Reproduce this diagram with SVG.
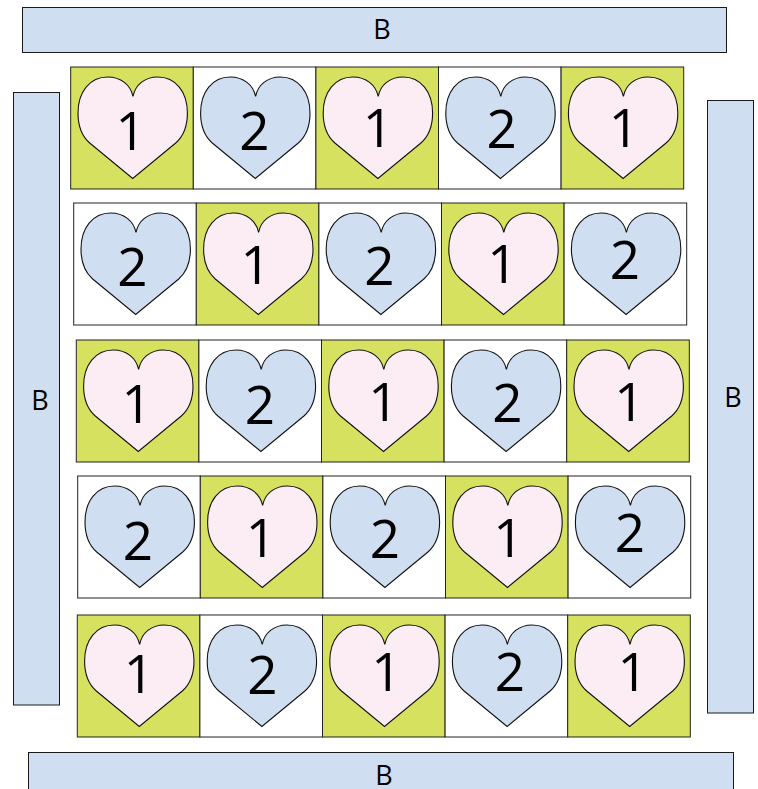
<svg xmlns="http://www.w3.org/2000/svg" width="758" height="789" viewBox="0 0 758 789">
<style>
.b{fill:#cfdff1;stroke:#1a1a1a;stroke-width:1}
.c{stroke:#222;stroke-width:1}
.g{fill:#d7e160}.w{fill:#fff}
.h{stroke:#111;stroke-width:1.100}
.p{fill:#fcedf5}.l{fill:#cfdff1}
text{font-family:"Open Sans","Noto Sans",sans-serif;fill:#000;text-anchor:middle}
.d{font-size:53px}.t{font-size:27px}
</style>
<defs>
<path id="heart" d="M62.300 29.500C60 18 50 10 37 10C19 10 7.300 25 7.300 46C7.300 60 11 69 19 76L62 111.500L105 76C113 69 116.700 60 116.700 46C116.700 25 105 10 87 10C74 10 64.500 18 62.300 29.500Z"/>
<g id="t1"><rect class="c g" width="122.600" height="122"/><use href="#heart" class="h p"/></g>
<g id="t2"><rect class="c w" width="122.600" height="122"/><use href="#heart" class="h l"/></g>
</defs>
<g id="border-top"><rect class="b" x="22.500" y="7.500" width="704" height="45"/><text class="t" x="382" y="39">B</text></g>
<g id="border-bottom"><rect class="b" x="28.500" y="752.500" width="705" height="45"/><text class="t" x="384" y="785">B</text></g>
<g id="border-left"><rect class="b" x="13.500" y="92.500" width="46" height="612.500"/><text class="t" x="40" y="410">B</text></g>
<g id="border-right"><rect class="b" x="707.500" y="100.500" width="46" height="612.500"/><text class="t" x="733" y="407">B</text></g>
<g id="row1">
<use href="#t1" x="70.700" y="67"/><use href="#t2" x="193.300" y="67"/><use href="#t1" x="315.900" y="67"/><use href="#t2" x="438.500" y="67"/><use href="#t1" x="561.100" y="67"/>
<text class="d" x="130.700" y="149.700">1</text><text class="d" x="254.500" y="149.700">2</text><text class="d" x="378" y="147">1</text><text class="d" x="501.700" y="148">2</text><text class="d" x="624" y="147">1</text>
</g>
<g id="row2">
<use href="#t2" x="73.700" y="203"/><use href="#t1" x="196.300" y="203"/><use href="#t2" x="318.900" y="203"/><use href="#t1" x="441.500" y="203"/><use href="#t2" x="564.100" y="203"/>
<text class="d" x="132.500" y="286.300">2</text><text class="d" x="255.700" y="283.700">1</text><text class="d" x="379.300" y="284.700">2</text><text class="d" x="502.300" y="283">1</text><text class="d" x="625" y="279">2</text>
</g>
<g id="row3">
<use href="#t1" x="76.300" y="340"/><use href="#t2" x="198.900" y="340"/><use href="#t1" x="321.500" y="340"/><use href="#t2" x="444.100" y="340"/><use href="#t1" x="566.700" y="340"/>
<text class="d" x="136.700" y="423">1</text><text class="d" x="260" y="424">2</text><text class="d" x="383.300" y="420.700">1</text><text class="d" x="507.300" y="422">2</text><text class="d" x="629.300" y="420.700">1</text>
</g>
<g id="row4">
<use href="#t2" x="77.700" y="476"/><use href="#t1" x="200.300" y="476"/><use href="#t2" x="322.900" y="476"/><use href="#t1" x="445.500" y="476"/><use href="#t2" x="568.100" y="476"/>
<text class="d" x="138" y="559.700">2</text><text class="d" x="261" y="557">1</text><text class="d" x="385" y="558">2</text><text class="d" x="508.300" y="557">1</text><text class="d" x="630" y="552.400">2</text>
</g>
<g id="row5">
<use href="#t1" x="77.300" y="615"/><use href="#t2" x="199.900" y="615"/><use href="#t1" x="322.500" y="615"/><use href="#t2" x="445.100" y="615"/><use href="#t1" x="567.700" y="615"/>
<text class="d" x="139" y="693">1</text><text class="d" x="262.300" y="693.700">2</text><text class="d" x="386.500" y="691.400">1</text><text class="d" x="510" y="691.400">2</text><text class="d" x="632.700" y="691.400">1</text>
</g>
</svg>
